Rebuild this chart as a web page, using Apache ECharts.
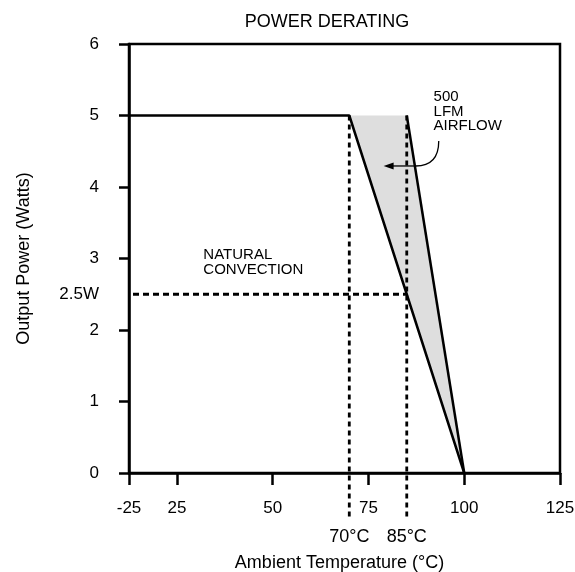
<!DOCTYPE html>
<html>
<head>
<meta charset="utf-8">
<script src="https://cdn.jsdelivr.net/npm/echarts@6/dist/echarts.min.js"></script>
<style>html,body{margin:0;padding:0;background:#fff}#chart{width:575px;height:572px}</style>
</head>
<body>
<div id="chart"></div>
<script>
// ---- data ----
const xTickValues = [12.5, 25, 50, 75, 100, 125];
const xTickLabels = ['-25', '25', '50', '75', '100', '125'];
const yTickValues = [0, 1, 2, 3, 4, 5, 6];
const yLabelValues = [0, 1, 2, 2.5, 3, 4, 5, 6];
const naturalConvection = [[12.5, 5], [70, 5], [100, 0]];
const airflow500 = [[70, 5], [85, 5], [100, 0]];
const markTemps = [70, 85];
const markPower = 2.5;
const annotations = [
  { text: 'NATURAL\nCONVECTION', at: [31.9, 3.15] },
  { text: '500\nLFM\nAIRFLOW', at: [92.0, 5.36] }
];
// arrow: start, control1, control2, end of curve, tip
const arrowPoints = [[93.35, 4.643], [93.35, 4.406], [91.25, 4.294], [87.33, 4.294], [78.96, 4.294]];

const FONT = '"Liberation Sans", Arial, Helvetica, sans-serif';
const chart = echarts.init(document.getElementById('chart'));

const option = {
  animation: false,
  backgroundColor: '#fff',
  title: {
    text: 'POWER DERATING',
    left: 322, top: 8, textAlign: 'center',
    textStyle: { fontSize: 18, fontWeight: 'normal', color: '#000', fontFamily: FONT }
  },
  grid: {
    left: 129, right: 15, top: 44, bottom: 99,
    show: true, borderColor: '#000', borderWidth: 2.5,
    containLabel: false, outerBoundsMode: 'none'
  },
  xAxis: [{
    type: 'value', min: 12.5, max: 125,
    name: 'Ambient Temperature (°C)', nameLocation: 'middle', nameGap: 81,
    nameTextStyle: { fontSize: 18, color: '#000', fontFamily: FONT, padding: [0, 10, 0, 0] },
    splitLine: { show: false },
    axisLine: { lineStyle: { color: '#000', width: 2.5 } },
    axisTick: { customValues: xTickValues, length: 12, lineStyle: { color: '#000', width: 2.5 } },
    axisLabel: {
      customValues: xTickValues, margin: 27, fontSize: 17, color: '#000', fontFamily: FONT,
      formatter: v => { const i = xTickValues.indexOf(v); return i >= 0 ? xTickLabels[i] : ''; }
    }
  }, {
    type: 'value', min: 12.5, max: 125, position: 'bottom', gridIndex: 0,
    splitLine: { show: false }, axisLine: { show: false }, axisTick: { show: false },
    axisLabel: {
      customValues: markTemps, margin: 55, fontSize: 18, color: '#000', fontFamily: FONT,
      formatter: v => v + '°C'
    }
  }],
  yAxis: {
    type: 'value', min: 0, max: 6, interval: 1,
    name: 'Output Power (Watts)', nameLocation: 'middle', nameGap: 96,
    nameTextStyle: { fontSize: 18, color: '#000', fontFamily: FONT },
    splitLine: { show: false },
    axisLine: { lineStyle: { color: '#000', width: 2.5 } },
    axisTick: { customValues: yTickValues, length: 10, lineStyle: { color: '#000', width: 2.5 } },
    axisLabel: {
      customValues: yLabelValues, margin: 30, fontSize: 17, color: '#000', fontFamily: FONT,
      formatter: v => v === markPower ? markPower + 'W' : String(v)
    }
  },
  series: [
    {
      type: 'custom', z: 1, silent: true, clip: false,
      data: [[airflow500[0][0], airflow500[0][1]]],
      renderItem: (params, api) => ({
        type: 'polygon',
        shape: { points: airflow500.map(p => api.coord(p)) },
        style: { fill: '#dedede', stroke: null }
      })
    },
    {
      type: 'line', z: 3, data: naturalConvection, symbol: 'none',
      lineStyle: { color: '#000', width: 2.5 }
    },
    {
      type: 'line', z: 3, data: airflow500.slice(1), symbol: 'none',
      lineStyle: { color: '#000', width: 2.5 }
    },
    {
      type: 'custom', z: 4, silent: true, clip: false,
      data: [[markTemps[0], markPower]],
      renderItem: (params, api) => {
        const children = [];
        const dash = { stroke: '#000', lineWidth: 2.8, lineDash: [5, 4], fill: null };
        markTemps.forEach(t => {
          const top = api.coord([t, 5]);
          const bot = api.coord([t, 0]);
          children.push({ type: 'line', shape: { x1: top[0], y1: top[1], x2: bot[0], y2: bot[1] + 47 }, style: dash });
        });
        const hl = api.coord([12.5, markPower]);
        const hr = api.coord([markTemps[1], markPower]);
        children.push({ type: 'line', shape: { x1: hl[0] + 4, y1: hl[1], x2: hr[0], y2: hr[1] }, style: { stroke: '#000', lineWidth: 2.8, lineDash: [6, 4], fill: null } });
        const a = arrowPoints.map(p => api.coord(p));
        children.push({ type: 'bezierCurve', shape: { x1: a[0][0], y1: a[0][1], cpx1: a[1][0], cpy1: a[1][1], cpx2: a[2][0], cpy2: a[2][1], x2: a[3][0], y2: a[3][1] }, style: { stroke: '#000', lineWidth: 1.3, fill: null } });
        children.push({ type: 'line', shape: { x1: a[3][0], y1: a[3][1], x2: a[4][0] + 6, y2: a[4][1] }, style: { stroke: '#000', lineWidth: 1.3 } });
        children.push({ type: 'polygon', shape: { points: [[a[4][0], a[4][1]], [a[4][0] + 10, a[4][1] - 3.5], [a[4][0] + 10, a[4][1] + 3.5]] }, style: { fill: '#000' } });
        annotations.forEach(n => {
          const p = api.coord(n.at);
          children.push({ type: 'text', style: { text: n.text, x: p[0], y: p[1], fill: '#000', font: '15px ' + FONT, textAlign: 'left', textVerticalAlign: 'top', align: 'left', verticalAlign: 'top', lineHeight: 14.5 } });
        });
        return { type: 'group', children };
      }
    }
  ]
};
chart.setOption(option);
</script>
</body>
</html>
